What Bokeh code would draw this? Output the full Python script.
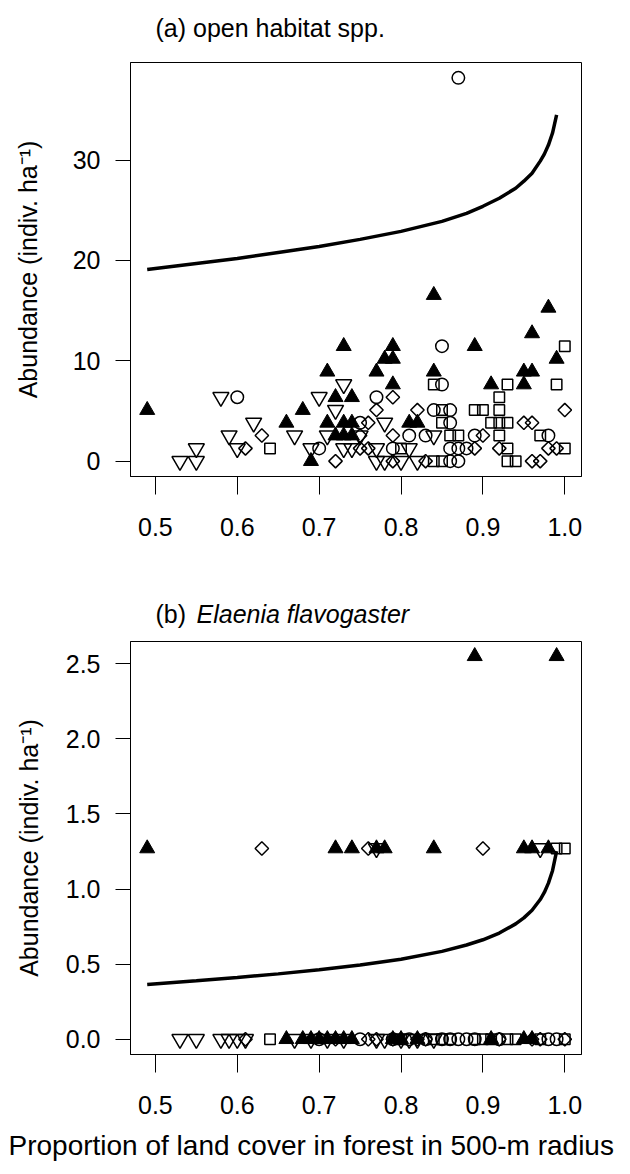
import numpy as np
from bokeh.plotting import figure
from bokeh.layouts import column
from bokeh.models import Range1d, FixedTicker, NumeralTickFormatter, Title
from bokeh.core.properties import value
from bokeh.embed import file_html
from bokeh.resources import INLINE

FONT = "Liberation Sans"
W = 630
FL, FW = 130, 451          # frame left / frame width (pixels)

# ---------------- ticks ----------------
x_ticks = [0.5, 0.6, 0.7, 0.8, 0.9, 1.0]
x_tick_labels = ["0.5", "0.6", "0.7", "0.8", "0.9", "1.0"]
ya_ticks = [0, 10, 20, 30]
ya_tick_labels = ["0", "10", "20", "30"]
yb_ticks = [0.0, 0.5, 1.0, 1.5, 2.0, 2.5]
yb_tick_labels = ["0.0", "0.5", "1.0", "1.5", "2.0", "2.5"]

# ---------------- texts ----------------
title_a = "(a) open habitat spp."
title_b_tag = "(b)"
title_b_species = "Elaenia flavogaster"
y_label = "Abundance (indiv. ha\u207b\u00b9)"
x_label = "Proportion of land cover in forest in 500-m radius"

# ---------------- panel (a): open habitat spp. ----------------
a_tri_x = [0.49, 0.66, 0.68, 0.69, 0.71, 0.71, 0.72, 0.72, 0.73, 0.73, 0.73, 0.74, 0.74, 0.74,
           0.77, 0.78, 0.79, 0.79, 0.79, 0.81, 0.82, 0.84, 0.84, 0.89, 0.91, 0.95, 0.95, 0.96,
           0.96, 0.98, 0.99]
a_tri_y = [5.09, 3.82, 5.09, 0.0, 8.91, 3.82, 6.37, 2.55, 11.46, 2.55, 3.82, 6.37, 3.82, 2.55,
           8.91, 10.19, 10.19, 11.46, 7.64, 3.82, 3.82, 16.55, 8.91, 11.46, 7.64, 8.91, 7.64, 8.91,
           12.73, 15.28, 10.19]

a_dtri_x = [0.53, 0.55, 0.55, 0.58, 0.59, 0.60, 0.62, 0.67, 0.69, 0.70, 0.71, 0.72, 0.73, 0.73,
            0.74, 0.75, 0.77, 0.77, 0.78, 0.78, 0.80, 0.81, 0.82, 0.84]
a_dtri_y = [0.0, 0.0, 1.27, 6.37, 2.55, 1.27, 3.82, 2.55, 1.27, 6.37, 2.55, 5.09, 7.64, 1.27,
            1.27, 2.55, 1.27, 0.0, 3.82, 0.0, 0.0, 1.27, 0.0, 2.55]

a_circ_x = [0.60, 0.70, 0.75, 0.77, 0.79, 0.81, 0.83, 0.84, 0.85, 0.85, 0.86, 0.86, 0.86, 0.87,
            0.88, 0.86, 0.87, 0.89, 0.98, 0.87]
a_circ_y = [6.37, 1.27, 3.82, 6.37, 1.27, 2.55, 2.55, 5.09, 11.46, 7.64, 5.09, 3.82, 1.27, 1.27,
            1.27, 0.0, 0.0, 2.55, 2.55, 38.2]

a_sq_x = [0.64, 0.80, 0.84, 0.85, 0.85, 0.86, 0.87, 0.84, 0.85, 0.89, 0.90, 0.91, 0.92, 0.93,
          0.92, 0.92, 0.92, 0.93, 0.93, 0.93, 0.94, 0.97, 0.99, 1.00, 1.00]
a_sq_y = [1.27, 1.27, 7.64, 5.09, 3.82, 2.55, 2.55, 0.0, 0.0, 5.09, 5.09, 3.82, 3.82, 3.82,
          6.37, 5.09, 2.55, 7.64, 1.27, 0.0, 0.0, 2.55, 7.64, 11.46, 1.27]

a_dia_x = [0.61, 0.63, 0.72, 0.75, 0.75, 0.76, 0.76, 0.77, 0.79, 0.79, 0.79, 0.82, 0.83, 0.89,
           0.90, 0.92, 0.95, 0.96, 0.96, 0.97, 0.98, 0.99, 1.00]
a_dia_y = [1.27, 2.55, 0.0, 2.55, 1.27, 3.82, 1.27, 5.09, 6.37, 2.55, 0.0, 5.09, 0.0, 1.27,
           2.55, 1.27, 3.82, 3.82, 0.0, 0.0, 1.27, 1.27, 5.09]

a_curve_x = [0.49, 0.55, 0.60, 0.65, 0.70, 0.75, 0.80, 0.85, 0.88, 0.90, 0.92, 0.94, 0.95,
             0.96, 0.97, 0.975, 0.98, 0.985, 0.99]
a_curve_y = [19.1, 19.7, 20.2, 20.8, 21.4, 22.1, 22.9, 23.9, 24.7, 25.4, 26.2, 27.2, 27.9,
             28.7, 29.9, 30.6, 31.5, 32.7, 34.5]

# ---------------- panel (b): Elaenia flavogaster ----------------
b_tri_x = [0.49, 0.72, 0.74, 0.77, 0.78, 0.84, 0.95, 0.96, 0.98, 0.89, 0.99,
           0.66, 0.68, 0.69, 0.70, 0.71, 0.72, 0.73, 0.74, 0.79, 0.80, 0.82, 0.91, 0.95, 0.96]
b_tri_y = [1.27, 1.27, 1.27, 1.27, 1.27, 1.27, 1.27, 1.27, 1.27, 2.55, 2.55,
           0.0, 0.0, 0.0, 0.0, 0.0, 0.0, 0.0, 0.0, 0.0, 0.0, 0.0, 0.0, 0.0, 0.0]

b_dtri_x = [0.77, 0.97,
            0.53, 0.55, 0.58, 0.59, 0.60, 0.61, 0.67, 0.69, 0.71, 0.73, 0.77, 0.78, 0.80,
            0.81, 0.82, 0.84]
b_dtri_y = [1.27, 1.27,
            0.0, 0.0, 0.0, 0.0, 0.0, 0.0, 0.0, 0.0, 0.0, 0.0, 0.0, 0.0, 0.0,
            0.0, 0.0, 0.0]

b_circ_x = [0.70, 0.75, 0.79, 0.81, 0.83, 0.85, 0.86, 0.87, 0.88, 0.89, 0.92, 0.98, 0.99]
b_circ_y = [0.0, 0.0, 0.0, 0.0, 0.0, 0.0, 0.0, 0.0, 0.0, 0.0, 0.0, 0.0, 0.0]

b_sq_x = [0.99, 1.00,
          0.64, 0.80, 0.84, 0.85, 0.86, 0.89, 0.90, 0.91, 0.93, 0.94, 0.97, 1.00]
b_sq_y = [1.27, 1.27,
          0.0, 0.0, 0.0, 0.0, 0.0, 0.0, 0.0, 0.0, 0.0, 0.0, 0.0, 0.0]

b_dia_x = [0.63, 0.76, 0.90,
           0.61, 0.72, 0.76, 0.77, 0.79, 0.82, 0.83, 0.92, 0.96, 0.97, 1.00]
b_dia_y = [1.27, 1.27, 1.27,
           0.0, 0.0, 0.0, 0.0, 0.0, 0.0, 0.0, 0.0, 0.0, 0.0, 0.0]

b_curve_x = [0.49, 0.55, 0.60, 0.65, 0.70, 0.75, 0.80, 0.85, 0.88, 0.90, 0.92, 0.94, 0.95,
             0.96, 0.97, 0.975, 0.98, 0.985, 0.99]
b_curve_y = [0.365, 0.389, 0.411, 0.435, 0.462, 0.494, 0.533, 0.585, 0.627, 0.662, 0.707,
             0.768, 0.808, 0.859, 0.930, 0.977, 1.039, 1.122, 1.252]


def text_strip(h):
    """Blank strip whose frame lines up with the panels (x in page pixels)."""
    p = figure(frame_width=FW, frame_height=h, x_range=Range1d(FL, FL + FW),
               y_range=Range1d(0, h), x_axis_type=None, y_axis_type=None,
               output_backend="svg", toolbar_location=None,
               min_border_left=FL, min_border_right=W - FL - FW,
               min_border_top=0, min_border_bottom=0)
    p.outline_line_color = None
    p.xgrid.visible = False
    p.ygrid.visible = False
    return p


def make_fig(y_range, frame_h, b_top, b_bottom, yticks, ylabels, ylab_standoff):
    p = figure(frame_width=FW, frame_height=frame_h,
               x_range=Range1d(0.4696, 1.0204), y_range=Range1d(*y_range),
               output_backend="svg", toolbar_location=None,
               min_border_left=FL, min_border_right=W - FL - FW,
               min_border_top=b_top, min_border_bottom=b_bottom)
    p.background_fill_color = "white"
    p.border_fill_color = "white"
    p.outline_line_color = "black"
    p.outline_line_width = 1
    p.xgrid.visible = False
    p.ygrid.visible = False
    for ax in (p.xaxis[0], p.yaxis[0]):
        ax.axis_line_color = "black"
        ax.major_tick_line_color = "black"
        ax.minor_tick_line_color = None
        ax.major_tick_in = 0
        ax.major_label_text_font = FONT
        ax.major_label_text_font_size = "25px"
        ax.major_label_text_color = "black"
    p.xaxis.ticker = FixedTicker(ticks=x_ticks)
    p.xaxis.formatter = NumeralTickFormatter(format="0.0")
    p.xaxis.major_label_overrides = dict(zip(x_ticks, x_tick_labels))
    p.xaxis.major_tick_out = 18
    p.xaxis.major_label_standoff = 23
    p.yaxis.ticker = FixedTicker(ticks=yticks)
    p.yaxis.major_label_overrides = dict(zip(yticks, ylabels))
    p.yaxis.major_tick_out = 15
    p.yaxis.major_label_standoff = 15
    p.yaxis.axis_label = y_label
    p.yaxis.axis_label_text_font = FONT
    p.yaxis.axis_label_text_font_size = "25px"
    p.yaxis.axis_label_text_font_style = "normal"
    p.yaxis.axis_label_text_color = "black"
    p.yaxis.axis_label_standoff = ylab_standoff
    return p


def add_points(p, tx, ty, dx, dy, cx, cy, sx, sy, mx, my):
    p.scatter(dx, dy, marker="inverted_triangle", size=16, fill_color=None,
              line_color="black", line_width=1.5)
    p.scatter(cx, cy, marker="circle", size=12.5, fill_color=None,
              line_color="black", line_width=1.5)
    p.scatter(sx, sy, marker="square", size=10.5, fill_color=None,
              line_color="black", line_width=1.5)
    p.scatter(mx, my, marker="square", angle=np.pi / 4, size=9.5, fill_color=None,
              line_color="black", line_width=1.5)
    p.scatter(tx, ty, marker="triangle", size=15, fill_color="black",
              line_color="black", line_width=1)


# header (a): page y 0..56
ha = text_strip(56)
ha.text(x=[155], y=[29], text=[title_a], text_font=value(FONT), text_font_size="25px",
        text_align="left", text_baseline="middle", text_color="black")

# panel (a): page y 56..580, frame 62..476
pa = make_fig((-1.53, 39.73), 414, 6, 104, ya_ticks, ya_tick_labels, 28)
pa.line(a_curve_x, a_curve_y, line_width=3.5, line_color="black")
add_points(pa, a_tri_x, a_tri_y, a_dtri_x, a_dtri_y, a_circ_x, a_circ_y,
           a_sq_x, a_sq_y, a_dia_x, a_dia_y)

# header (b): page y 580..635
hb = text_strip(55)
hb.text(x=[155], y=[22], text=[title_b_tag], text_font=value(FONT), text_font_size="25px",
        text_align="left", text_baseline="middle", text_color="black")
hb.text(x=[196], y=[22], text=[title_b_species], text_font=value(FONT), text_font_size="25px",
        text_font_style="italic", text_align="left", text_baseline="middle", text_color="black")

# panel (b): page y 635..1174, frame 641..1054
pb = make_fig((-0.1018, 2.648), 413, 6, 120, yb_ticks, yb_tick_labels, 20)
pb.line(b_curve_x, b_curve_y, line_width=3.5, line_color="black")
add_points(pb, b_tri_x, b_tri_y, b_dtri_x, b_dtri_y, b_circ_x, b_circ_y,
           b_sq_x, b_sq_y, b_dia_x, b_dia_y)
pb.add_layout(Title(text=x_label, align="left", offset=8 - FL, text_font=FONT,
                    text_font_size="28px", text_font_style="normal", text_color="black",
                    standoff=22), "below")

layout = column(ha, pa, hb, pb, spacing=0)
open("out.html", "w").write(file_html(layout, INLINE))
